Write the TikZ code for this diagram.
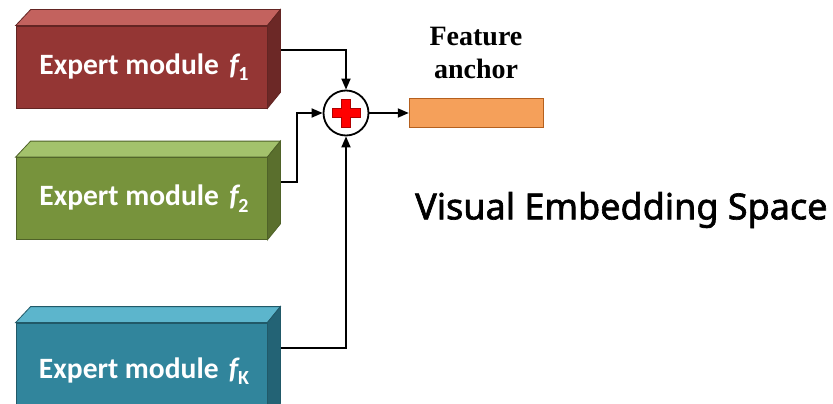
\documentclass[tikz,border=0pt]{standalone}
\usepackage{fontspec}
\setmainfont{Carlito}
\newfontfamily\serifbold{Liberation Serif}
\newfontfamily\titlefont[FakeBold=1.8]{Noto Sans}
\usetikzlibrary{arrows.meta,calc}

\definecolor{redfront}{HTML}{943634}
\definecolor{redtop}{HTML}{C3625E}
\definecolor{redside}{HTML}{6C2826}
\definecolor{redline}{HTML}{632523}
\definecolor{greenfront}{HTML}{77933C}
\definecolor{greentop}{HTML}{A3C26C}
\definecolor{greenside}{HTML}{5A6F2D}
\definecolor{greenline}{HTML}{4F6228}
\definecolor{bluefront}{HTML}{31859C}
\definecolor{bluetop}{HTML}{5CB5CC}
\definecolor{blueside}{HTML}{236375}
\definecolor{blueline}{HTML}{215968}
\definecolor{anchorfill}{HTML}{F5A05A}
\definecolor{anchorline}{HTML}{B5601E}
\definecolor{plusred}{HTML}{FF0000}
\definecolor{plusline}{HTML}{B00000}

\tikzset{
  expert/.style={minimum width=251pt, minimum height=82pt, inner sep=0pt},
  experttext/.style={text=white, font=\fontsize{29.5}{32}\selectfont\bfseries},
  wire/.style={line width=1.8pt, -{Triangle[length=11pt,width=9pt]}},
  sumnode/.style={circle, draw, line width=1.8pt, minimum size=45pt, inner sep=0pt, fill=white},
}

% front face is the node; top and side faces are drawn from its corners
\newcommand\blockfaces[4]{%
  \fill[#2, draw=#4, line width=0.8pt] (#1.north west) -- ++(15,-16) -- ($(#1.north east)+(13,-16)$) -- (#1.north east) -- cycle;
  \fill[#3, draw=#4, line width=0.8pt] (#1.north east) -- ++(13,-16) -- ($(#1.south east)+(13,-16)$) -- (#1.south east) -- cycle;
}
\newcommand\expertlabel[1]{Expert module\hspace{0.35em}\textit{f}\kern-0.06em\raisebox{-0.22em}{\fontsize{20}{22}\selectfont #1}}

\begin{document}
\begin{tikzpicture}[x=1pt,y=-1pt]
  \clip (0,0) rectangle (833,404);
  \fill[white] (0,0) rectangle (833,404);

  % expert modules
  \node[expert, fill=redfront, draw=redline, line width=0.8pt] (e1) at (141.5,67) {};
  \blockfaces{e1}{redtop}{redside}{redline}
  \node[experttext] (t1) at (144,67) {\expertlabel{1}};

  \node[expert, fill=greenfront, draw=greenline, line width=0.8pt] (e2) at (141.5,198.5) {};
  \blockfaces{e2}{greentop}{greenside}{greenline}
  \node[experttext] (t2) at (144,198.5) {\expertlabel{2}};

  \node[expert, fill=bluefront, draw=blueline, line width=0.8pt, minimum height=96pt] (eK) at (141.5,371) {};
  \blockfaces{eK}{bluetop}{blueside}{blueline}
  \node[experttext] (tK) at (144,371) {\expertlabel{K}};

  % summation
  \node[sumnode] (sum) at (346,113) {};
  \fill[plusred, draw=plusline, line width=0.8pt]
    ($(sum.center)+(-4.5,-14)$) -- ++(9,0) -- ++(0,9.5) -- ++(9.5,0) -- ++(0,9) -- ++(-9.5,0)
    -- ++(0,9.5) -- ++(-9,0) -- ++(0,-9.5) -- ++(-9.5,0) -- ++(0,-9) -- ++(9.5,0) -- cycle;

  % feature anchor
  \node[draw=anchorline, fill=anchorfill, line width=1.4pt, minimum width=134pt, minimum height=29pt, inner sep=0pt] (fa) at (476.5,113) {};
  \node[font=\serifbold\fontsize{28}{33}\selectfont\bfseries, align=center] (falabel) at (476,53) {Feature\\anchor};

  % caption
  \node[font=\titlefont\fontsize{36}{40}\selectfont, anchor=west, inner sep=0pt] (space) at (415,210) {Visual Embedding Space};

  % connectors
  \coordinate (o1) at (281,50);
  \coordinate (o2) at (281,182);
  \coordinate (oK) at (281,348);
  \draw[wire] (o1) -| (sum.north);
  \draw[wire] (o2) -- (297,182) |- (sum.west);
  \draw[wire] (oK) -| (sum.south);
  \draw[wire] (sum.east) -- (fa.west);
\end{tikzpicture}
\end{document}
